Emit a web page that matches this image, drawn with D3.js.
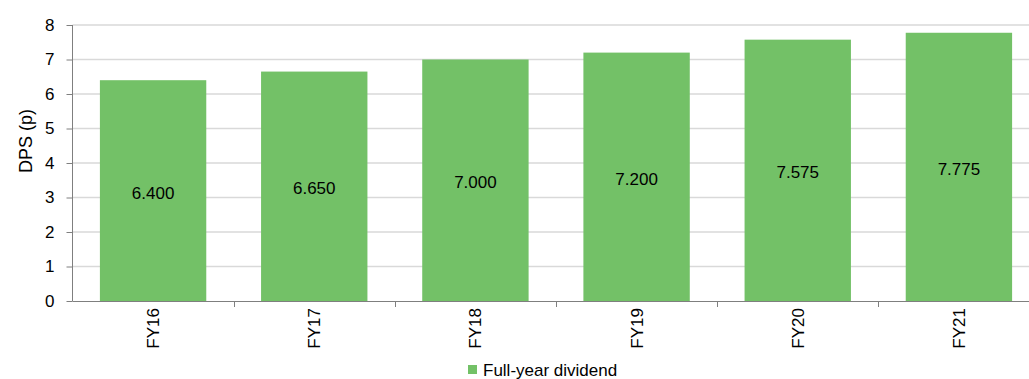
<!DOCTYPE html>
<html><head><meta charset="utf-8">
<script src="https://cdn.jsdelivr.net/npm/d3@7"></script>
<style>body{margin:0;background:#fff}svg{display:block}text{font-family:"Liberation Sans",Arial,sans-serif}</style>
</head><body>
<svg id="c" width="1029" height="379"></svg>
<script>
const categories = ["FY16","FY17","FY18","FY19","FY20","FY21"];
const values = [6.400, 6.650, 7.000, 7.200, 7.575, 7.775];
const labels = ["6.400","6.650","7.000","7.200","7.575","7.775"];
const yTicks = [0,1,2,3,4,5,6,7,8];
const seriesName = "Full-year dividend";

const svg = d3.select("#c");
const x = d3.scaleBand().domain(categories).range([72.5, 1039.5]).paddingInner(0.34).paddingOuter(0.17);
const y = d3.scaleLinear().domain([0, 8]).range([301, 25]);
const color = "#73c167";

// gridlines
svg.append("g").selectAll("line").data(yTicks.filter(d => d > 0)).join("line")
  .attr("x1", 72.5).attr("x2", 1029).attr("y1", d => y(d)).attr("y2", d => y(d))
  .attr("stroke", "#d9d9d9").attr("stroke-width", 1.5);

// bars
svg.append("g").selectAll("rect").data(values).join("rect")
  .attr("x", (d, i) => x(categories[i])).attr("width", x.bandwidth())
  .attr("y", d => y(d)).attr("height", d => y(0) - y(d)).attr("fill", color);

// value labels
svg.append("g").selectAll("text").data(values).join("text")
  .attr("x", (d, i) => x(categories[i]) + x.bandwidth() / 2)
  .attr("y", d => (y(d) + y(0)) / 2 + 8)
  .attr("text-anchor", "middle").attr("font-size", 17).attr("fill", "#000")
  .text((d, i) => labels[i]);

// y axis
const yAxis = svg.append("g").attr("transform", "translate(72.5,0)")
  .call(d3.axisLeft(y).tickValues(yTicks).tickSize(6).tickPadding(12).tickFormat(d3.format("d")));
yAxis.select(".domain").attr("stroke", "#7f7f7f").attr("d", `M0,${y(8)}V${y(0)}`);
yAxis.selectAll(".tick line").attr("stroke", "#7f7f7f");
yAxis.selectAll(".tick text").attr("font-size", 17).attr("fill", "#000").attr("font-family", '"Liberation Sans",Arial,sans-serif');

// x axis
const xg = svg.append("g").attr("transform", `translate(0,${y(0)})`);
xg.append("line").attr("x1", 72.5).attr("x2", 1029).attr("y1", 0.5).attr("y2", 0.5).attr("stroke", "#7f7f7f");
const step = x.step();
const bounds = categories.slice(1).map(c => x(c) - x.paddingInner() * step / 2);
xg.selectAll("line.tk").data(bounds).join("line").attr("class", "tk")
  .attr("x1", d => Math.round(d) + 0.5).attr("x2", d => Math.round(d) + 0.5)
  .attr("y1", 0).attr("y2", 6).attr("stroke", "#7f7f7f");
xg.selectAll("text").data(categories).join("text")
  .attr("transform", d => `translate(${x(d) + x.bandwidth() / 2 + 6},7) rotate(-90)`)
  .attr("text-anchor", "end").attr("font-size", 17).attr("fill", "#000").text(d => d);

// y title
svg.append("text").attr("transform", "translate(32,141) rotate(-90)")
  .attr("text-anchor", "middle").attr("font-size", 18).attr("fill", "#000").text("DPS (p)");

// legend
const lg = svg.append("g").attr("transform", "translate(468,362)");
lg.append("rect").attr("width", 9).attr("height", 9).attr("y", 3).attr("fill", color);
lg.append("text").attr("x", 15).attr("y", 14).attr("font-size", 17).attr("fill", "#000").text(seriesName);
</script>
</body></html>
